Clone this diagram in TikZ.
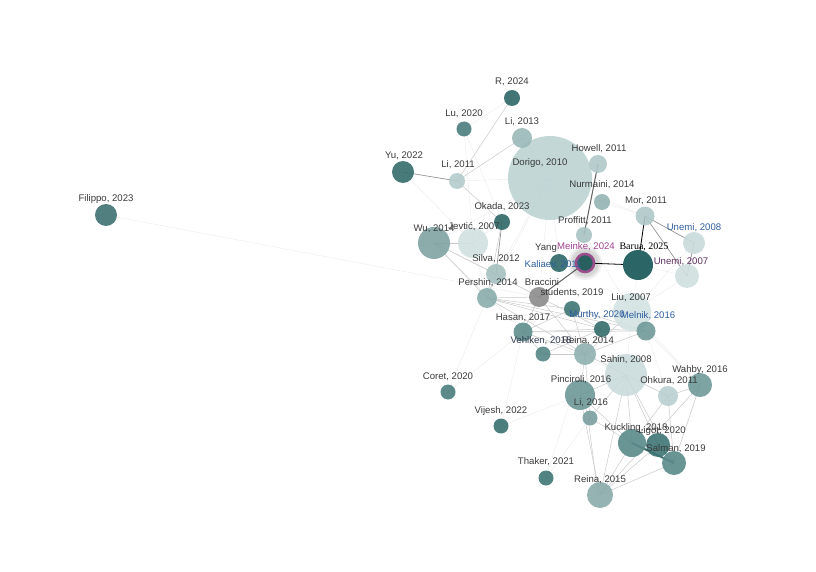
\documentclass[tikz,border=0pt]{standalone}
\usepackage{fontspec}
\setmainfont{Liberation Sans}
\newfontfamily\barfont{Liberation Serif}
\usetikzlibrary{backgrounds}
\definecolor{labc}{HTML}{3A3A3A}
\definecolor{labblue}{HTML}{2F5E9E}
\definecolor{labpurple}{HTML}{5A2E5E}
\definecolor{labmag}{HTML}{A0408F}
\definecolor{ringc}{HTML}{9A4E8C}
\definecolor{tealline}{HTML}{3F7070}
\tikzset{
  pn/.style={circle,inner sep=0pt,minimum size=#1,fill opacity=0.9,draw=none},
  lab/.style={font=\fontsize{9.6}{10}\selectfont,text=labc,inner sep=0pt},
  e0/.style={draw=black!8,line width=0.4pt},
  e1/.style={draw=black!21,line width=0.5pt},
  e2/.style={draw=black!42,line width=0.7pt},
  e3/.style={draw=black!62,line width=1pt},
  esel/.style={draw=black,line width=0.8pt},
}
\begin{document}
\begin{tikzpicture}[x=1pt,y=-1pt]
\useasboundingbox (0,0) rectangle (816,572);
% nodes
\node[pn=84pt,fill={rgb,255:red,188;green,211;blue,211}] (dorigo) at (550,178) {};
\node[pn=16pt,fill={rgb,255:red,46;green,102;blue,102}] (r24) at (512,98) {};
\node[pn=15pt,fill={rgb,255:red,74;green,124;blue,124}] (lu) at (464,129) {};
\node[pn=20pt,fill={rgb,255:red,154;green,184;blue,184}] (li13) at (522,138) {};
\node[pn=22pt,fill={rgb,255:red,53;green,108;blue,108}] (yu) at (403,172) {};
\node[pn=16pt,fill={rgb,255:red,180;green,204;blue,204}] (li11) at (457,181) {};
\node[pn=18pt,fill={rgb,255:red,176;green,200;blue,200}] (howell) at (598,164) {};
\node[pn=16pt,fill={rgb,255:red,147;green,178;blue,178}] (nurmaini) at (602,202) {};
\node[pn=16pt,fill={rgb,255:red,168;green,194;blue,194}] (proffitt) at (584,235) {};
\node[pn=19pt,fill={rgb,255:red,176;green,200;blue,200}] (mor) at (645,216) {};
\node[pn=22pt,fill={rgb,255:red,201;green,218;blue,218}] (unemi08) at (694,243) {};
\node[pn=24pt,fill={rgb,255:red,207;green,223;blue,223}] (unemi07) at (687,276) {};
\node[pn=16pt,fill={rgb,255:red,46;green,102;blue,102}] (okada) at (502,222) {};
\node[pn=32pt,fill={rgb,255:red,127;green,163;blue,163}] (wu) at (434,243) {};
\node[pn=30pt,fill={rgb,255:red,208;green,224;blue,224}] (jevtic) at (473,243) {};
\node[pn=20pt,fill={rgb,255:red,165;green,192;blue,192}] (silva) at (496,274) {};
\node[pn=20pt,fill={rgb,255:red,138;green,172;blue,172}] (pershin) at (487,298) {};
\node[pn=20pt,fill={rgb,255:red,140;green,140;blue,140}] (braccini) at (539,297) {};
\node[pn=16pt,fill={rgb,255:red,63;green,117;blue,117}] (students) at (572,309) {};
\node[pn=38pt,fill={rgb,255:red,211;green,226;blue,226}] (liu) at (632,312) {};
\node[pn=16pt,fill={rgb,255:red,53;green,108;blue,108}] (murthy) at (602,329) {};
\node[pn=19pt,fill={rgb,255:red,111;green,153;blue,153}] (melnik) at (646,331) {};
\node[pn=19pt,fill={rgb,255:red,95;green,141;blue,141}] (hasan) at (523,332) {};
\node[pn=15pt,fill={rgb,255:red,86;green,134;blue,134}] (vehlken) at (543,354) {};
\node[pn=22pt,fill={rgb,255:red,143;green,176;blue,176}] (reina14) at (585,354) {};
\node[pn=42pt,fill={rgb,255:red,202;green,219;blue,219}] (sahin) at (626,375) {};
\node[pn=24pt,fill={rgb,255:red,111;green,153;blue,153}] (wahby) at (700,385) {};
\node[pn=20pt,fill={rgb,255:red,184;green,207;blue,207}] (ohkura) at (668,396) {};
\node[pn=15pt,fill={rgb,255:red,74;green,124;blue,124}] (coret) at (448,392) {};
\node[pn=30pt,fill={rgb,255:red,109;green,151;blue,151}] (pinciroli) at (580,395) {};
\node[pn=15pt,fill={rgb,255:red,122;green,159;blue,159}] (li16) at (590,418) {};
\node[pn=15pt,fill={rgb,255:red,58;green,112;blue,112}] (vijesh) at (501,426) {};
\node[pn=28pt,fill={rgb,255:red,90;green,138;blue,138}] (kuckling) at (632,443) {};
\node[pn=24pt,fill={rgb,255:red,63;green,117;blue,117}] (ligot) at (658,445) {};
\node[pn=24pt,fill={rgb,255:red,90;green,138;blue,138}] (salman) at (674,463) {};
\node[pn=15pt,fill={rgb,255:red,63;green,117;blue,117}] (thaker) at (546,478) {};
\node[pn=26pt,fill={rgb,255:red,138;green,171;blue,171}] (reina15) at (600,495) {};
\node[pn=22pt,fill={rgb,255:red,62;green,112;blue,112}] (filippo) at (106,215) {};
\node[pn=18pt,fill={rgb,255:red,46;green,102;blue,102}] (yang) at (559,263) {};
\node[pn=30pt,fill={rgb,255:red,43;green,101;blue,101},fill opacity=1] (barua) at (638,265) {};
\node[pn=18pt,fill={rgb,255:red,40;green,96;blue,96},fill opacity=1,draw=ringc,draw opacity=1,line width=2.6pt] (meinke) at (585,263) {};
% edges and glow behind the nodes
\begin{pgfonlayer}{background}
\foreach \a/\b in {filippo/braccini,dorigo/wu,dorigo/jevtic,dorigo/silva,dorigo/pershin,dorigo/braccini,dorigo/li11,dorigo/mor,dorigo/liu,dorigo/yang,dorigo/proffitt,dorigo/okada,dorigo/li13,dorigo/nurmaini,lu/okada,lu/jevtic,coret/hasan,coret/pershin,vijesh/hasan,thaker/reina14,yu/jevtic,wu/hasan,unemi07/liu,unemi08/liu,mor/liu,wahby/liu,wahby/melnik,ohkura/melnik,sahin/liu,sahin/hasan,jevtic/pershin,nurmaini/mor,okada/jevtic,r24/lu,unemi07/barua,wu/braccini,vijesh/pinciroli,thaker/li16}
  \draw[e0] (\a.center) -- (\b.center);
\foreach \a/\b in {li11/li13,li11/r24,li11/okada,wu/jevtic,wu/silva,wu/pershin,silva/pershin,okada/pershin,pershin/braccini,pershin/students,pershin/murthy,pershin/melnik,pershin/reina14,hasan/melnik,hasan/reina14,hasan/students,braccini/murthy,braccini/reina14,students/reina14,students/melnik,murthy/reina14,reina14/melnik,liu/reina14,liu/melnik,vehlken/hasan,vehlken/reina14,vehlken/murthy,reina14/sahin,reina14/pinciroli,reina14/li16,sahin/ohkura,sahin/pinciroli,sahin/kuckling,sahin/ligot,sahin/salman,sahin/li16,sahin/reina15,ohkura/salman,ohkura/kuckling,wahby/ohkura,wahby/salman,wahby/reina15,pinciroli/li16,pinciroli/kuckling,li16/kuckling,reina15/kuckling,reina15/salman,reina15/ligot,pinciroli/reina15,silva/braccini,murthy/melnik,hasan/murthy,braccini/hasan}
  \draw[e1] (\a.center) -- (\b.center);
\draw[e1] ([xshift=-2pt]li16.center) -- ([xshift=-2pt]reina15.center);
\foreach \a/\b in {yu/li11,mor/unemi08,mor/unemi07,unemi08/unemi07,okada/silva,ligot/salman}
  \draw[e2] (\a.center) -- (\b.center);
\draw[e3] (howell.center) -- (proffitt.center);
\draw[e3] (meinke.center) -- (braccini.center);
\draw[draw=tealline,line width=2pt] (kuckling.center) -- (salman.center);
\draw[esel] (meinke.center) -- (barua.center);
\draw[esel] (mor.center) -- (barua.center);
\fill[black,opacity=0.06] (meinke.center) circle (17pt);
\fill[black,opacity=0.06] (meinke.center) circle (15pt);
\fill[black,opacity=0.06] (meinke.center) circle (13.5pt);
\end{pgfonlayer}
% labels
\node[lab] (r24-l) at (512,82) {R, 2024};
\node[lab] (lu-l) at (464,114) {Lu, 2020};
\node[lab] (li13-l) at (522,122) {Li, 2013};
\node[lab] (yu-l) at (404,156) {Yu, 2022};
\node[lab] (li11-l) at (458,165) {Li, 2011};
\node[lab] (dorigo-l) at (540,163) {Dorigo, 2010};
\node[lab] (howell-l) at (599,149) {Howell, 2011};
\node[lab] (nurmaini-l) at (602,185) {Nurmaini, 2014};
\node[lab] (proffitt-l) at (585,221) {Proffitt, 2011};
\node[lab] (mor-l) at (646,201) {Mor, 2011};
\node[lab,text=labblue] (unemi08-l) at (694,228) {Unemi, 2008};
\node[lab,text=labpurple] (unemi07-l) at (681,262) {Unemi, 2007};
\node[lab] (okada-l) at (502,207) {Okada, 2023};
\node[lab] (wu-l) at (434,229) {Wu, 2014};
\node[lab] (jevtic-l) at (474,227) {Jevtić, 2007};
\node[lab] (silva-l) at (496,259) {Silva, 2012};
\node[lab] (pershin-l) at (488,283) {Pershin, 2014};
\node[lab] (braccini-l) at (542,282) {Braccini};
\node[lab] (students-l) at (572,293) {students, 2019};
\node[lab] (liu-l) at (631,298) {Liu, 2007};
\node[lab,text=labblue] (murthy-l) at (597,315) {Murthy, 2020};
\node[lab,text=labblue] (melnik-l) at (648,316) {Melnik, 2016};
\node[lab] (hasan-l) at (523,318) {Hasan, 2017};
\node[lab] (reina14-l) at (588,341) {Reina, 2014};
\node[lab,text={rgb,255:red,50;green,60;blue,80}] (vehlken-l) at (541,341) {Vehlken, 2018};
\node[lab] (sahin-l) at (626,360) {Sahin, 2008};
\node[lab] (wahby-l) at (700,370) {Wahby, 2016};
\node[lab] (ohkura-l) at (669,381) {Ohkura, 2011};
\node[lab] (coret-l) at (448,377) {Coret, 2020};
\node[lab] (pinciroli-l) at (581,380) {Pinciroli, 2016};
\node[lab] (li16-l) at (591,403) {Li, 2016};
\node[lab] (vijesh-l) at (501,411) {Vijesh, 2022};
\node[lab] (kuckling-l) at (636,428) {Kuckling, 2018};
\node[lab] (ligot-l) at (662,431) {Ligot, 2020};
\node[lab] (salman-l) at (676,449) {Salman, 2019};
\node[lab] (thaker-l) at (546,462) {Thaker, 2021};
\node[lab] (reina15-l) at (600,480) {Reina, 2015};
\node[lab] (filippo-l) at (106,199) {Filippo, 2023};
\node[lab,anchor=west] (yang-l) at (535,248) {Yang};
\node[lab,text=labblue] (kaliaev-l) at (553,265) {Kaliaev, 2011};
\node[lab,text=labmag] (meinke-l) at (586,247) {Meinke, 2024};
\node[lab,text=black,font=\barfont\fontsize{10}{10}\selectfont] (barua-l) at (644,247) {Barua, 2025};
\end{tikzpicture}
\end{document}
